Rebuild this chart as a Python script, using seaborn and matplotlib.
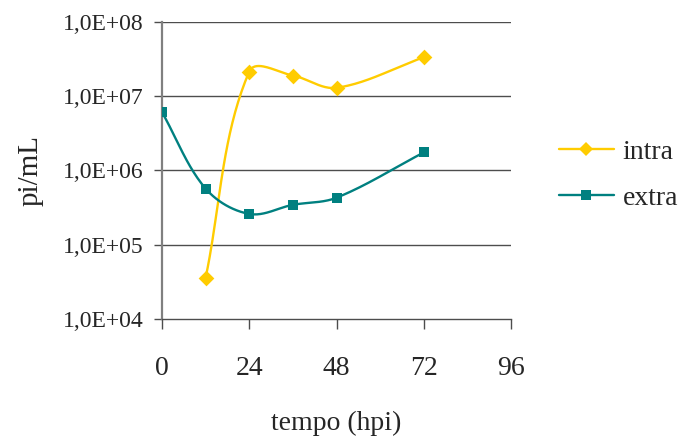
import matplotlib
matplotlib.use("Agg")
import matplotlib.pyplot as plt
from matplotlib.lines import Line2D
from matplotlib.ticker import FixedLocator, FuncFormatter, NullLocator
import numpy as np
import pandas as pd
import seaborn as sns

# values
intra_hpi = [12, 24, 36, 48, 72]
intra_pi = [3.6e4, 2.15e7, 1.9e7, 1.3e7, 3.35e7]
extra_hpi = [0, 12, 24, 36, 48, 72]
extra_pi = [6.1e6, 5.7e5, 2.6e5, 3.45e5, 4.3e5, 1.75e6]

x_ticks = [0, 24, 48, 72, 96]
y_ticks = [1e4, 1e5, 1e6, 1e7, 1e8]

YELLOW = "#FFCC00"
TEAL = "#008080"
GRID = "#4d4d4d"
SPINE = "#808080"


def smooth_curve(xs, ys, sx=3.635, sy=74.25, n=40):
    # Excel-like smoothed line: Bezier segments in screen space (log y),
    # tangent along neighbours, handle length tied to the segment length
    pts = np.column_stack([np.asarray(xs, float) * sx, np.log10(ys) * sy])
    last = len(pts) - 1

    def tangent(i):
        d = pts[min(i + 1, last)] - pts[max(i - 1, 0)]
        return d / np.hypot(*d)

    out = [pts[0]]
    for i in range(last):
        p1, p2 = pts[i], pts[i + 1]
        seg = np.hypot(*(p2 - p1))
        c1 = p1 + tangent(i) * seg / 3
        c2 = p2 - tangent(i + 1) * seg / 3
        t = np.linspace(0, 1, n)[1:, None]
        out.extend((1 - t) ** 3 * p1 + 3 * (1 - t) ** 2 * t * c1
                   + 3 * (1 - t) * t ** 2 * c2 + t ** 3 * p2)
    out = np.array(out)
    return pd.DataFrame({"x": out[:, 0] / sx, "y": 10 ** (out[:, 1] / sy)})


sns.set_style("white")
plt.rcParams["font.family"] = ["Liberation Serif", "DejaVu Serif"]

fig = plt.figure(figsize=(6.83, 4.38), dpi=100)
ax = fig.add_axes([0.2372, 0.2717, 0.5110, 0.6781])

series = [
    ("intra", intra_hpi, intra_pi, YELLOW, "D", 8),
    ("extra", extra_hpi, extra_pi, TEAL, "s", 7.5),
]
handles = []
for name, xs, ys, color, marker, ms in series:
    curve = smooth_curve(xs, ys)
    sns.lineplot(data=curve, x="x", y="y", sort=False, estimator=None,
                 color=color, lw=1.7, ax=ax, zorder=3)
    pts = pd.DataFrame({"x": xs, "y": ys})
    sns.scatterplot(data=pts, x="x", y="y", marker=marker, s=ms ** 2,
                    color=color, edgecolor=color, linewidth=0, ax=ax, zorder=4)
    handles.append(Line2D([], [], color=color, lw=1.7, marker=marker,
                          markersize=ms * 0.9, markeredgewidth=0, label=name))

ax.set_yscale("log")
ax.set_xlim(0, 96)
ax.set_ylim(1e4, 1e8)
ax.xaxis.set_major_locator(FixedLocator(x_ticks))
ax.yaxis.set_major_locator(FixedLocator(y_ticks))
ax.yaxis.set_minor_locator(NullLocator())
ax.yaxis.set_major_formatter(
    FuncFormatter(lambda v, _: f"1,0E+{int(round(np.log10(v))):02d}"))

for y in y_ticks[1:]:
    ax.axhline(y, color=GRID, lw=1.0, zorder=1)

for side in ("top", "right"):
    ax.spines[side].set_visible(False)
ax.spines["left"].set_color(SPINE)
ax.spines["left"].set_linewidth(1.6)
ax.spines["bottom"].set_color(GRID)
ax.spines["bottom"].set_linewidth(1.0)

ax.tick_params(axis="y", direction="out", length=6, width=1, color=GRID,
               labelsize=17, pad=7, left=True)
ax.tick_params(axis="x", direction="out", length=7, width=1, color=GRID,
               labelsize=20, pad=20, bottom=True)

ax.set_xlabel("tempo (hpi)", fontsize=20, labelpad=21)
ax.set_ylabel("pi/mL", fontsize=21, labelpad=14)

fig.legend(handles=handles, loc="center left", bbox_to_anchor=(0.818, 0.6),
           frameon=False, fontsize=20, handlelength=2.0, handletextpad=0.3,
           labelspacing=0.75, borderpad=0, borderaxespad=0)

fig.savefig("out.png", dpi=100)
